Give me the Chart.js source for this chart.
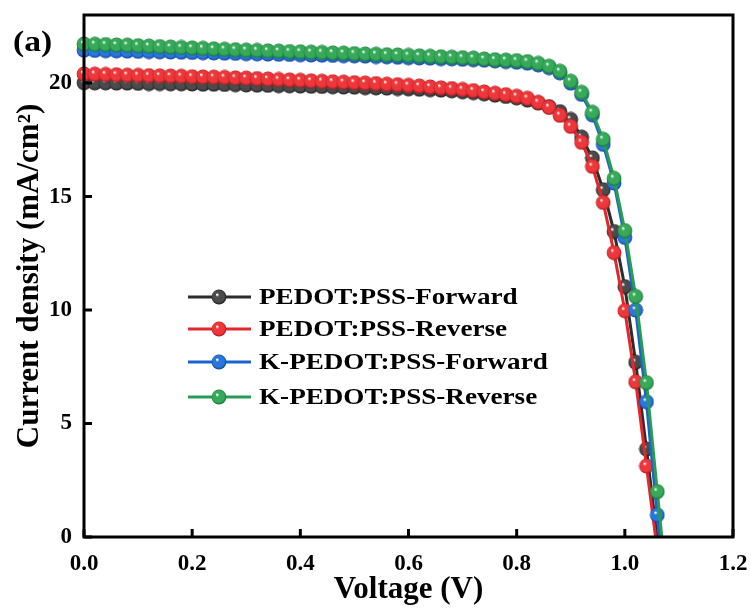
<!DOCTYPE html>
<html>
<head>
<meta charset="utf-8">
<script src="https://cdn.jsdelivr.net/npm/chart.js@4"></script>
<style>
  body { margin: 0; background: #fff; }
  #jv { display: block; }
</style>
</head>
<body>
<canvas id="jv" width="751" height="610"></canvas>
<script>
// voltage steps (V)
const voltage = [0.00, 0.02, 0.04, 0.06, 0.08, 0.10, 0.12, 0.14, 0.16, 0.18,
  0.20, 0.22, 0.24, 0.26, 0.28, 0.30, 0.32, 0.34, 0.36, 0.38,
  0.40, 0.42, 0.44, 0.46, 0.48, 0.50, 0.52, 0.54, 0.56, 0.58,
  0.60, 0.62, 0.64, 0.66, 0.68, 0.70, 0.72, 0.74, 0.76, 0.78,
  0.80, 0.82, 0.84, 0.86, 0.88, 0.90, 0.92, 0.94, 0.96, 0.98,
  1.00, 1.02, 1.04, 1.06, 1.08];

// current density (mA/cm2), one per voltage step
const pedotFwd = [20.02, 20.01, 20.01, 20.00, 20.00, 19.99, 19.98, 19.98, 19.97, 19.97,
  19.96, 19.95, 19.95, 19.94, 19.93, 19.92, 19.91, 19.90, 19.89, 19.88,
  19.87, 19.86, 19.85, 19.84, 19.83, 19.82, 19.80, 19.79, 19.78, 19.76,
  19.75, 19.73, 19.71, 19.69, 19.66, 19.62, 19.58, 19.53, 19.47, 19.41,
  19.35, 19.25, 19.12, 18.96, 18.74, 18.40, 17.62, 16.70, 15.30, 13.46,
  11.03, 7.70, 3.88, -0.10];
const pedotRev = [20.40, 20.39, 20.38, 20.37, 20.35, 20.34, 20.33, 20.32, 20.31, 20.30,
  20.28, 20.27, 20.26, 20.25, 20.23, 20.22, 20.20, 20.18, 20.16, 20.14,
  20.12, 20.10, 20.08, 20.06, 20.04, 20.02, 20.00, 19.98, 19.95, 19.93,
  19.90, 19.87, 19.83, 19.79, 19.76, 19.72, 19.67, 19.61, 19.55, 19.49,
  19.42, 19.33, 19.15, 18.93, 18.58, 18.09, 17.39, 16.33, 14.74, 12.53,
  9.97, 6.84, 3.13, -0.60];
const kpedotFwd = [21.45, 21.44, 21.43, 21.42, 21.41, 21.40, 21.39, 21.38, 21.37, 21.36,
  21.35, 21.34, 21.33, 21.32, 21.31, 21.30, 21.29, 21.28, 21.27, 21.26,
  21.25, 21.24, 21.23, 21.22, 21.21, 21.20, 21.19, 21.17, 21.16, 21.14,
  21.12, 21.11, 21.10, 21.08, 21.07, 21.05, 21.03, 21.01, 20.98, 20.95,
  20.92, 20.88, 20.80, 20.68, 20.45, 20.00, 19.50, 18.60, 17.30, 15.60,
  13.20, 10.00, 5.96, 0.97, -4.00];
const kpedotRev = [21.72, 21.71, 21.70, 21.68, 21.67, 21.65, 21.63, 21.61, 21.59, 21.57,
  21.55, 21.53, 21.51, 21.49, 21.47, 21.45, 21.44, 21.42, 21.41, 21.39,
  21.38, 21.36, 21.35, 21.33, 21.32, 21.30, 21.28, 21.27, 21.25, 21.24,
  21.22, 21.20, 21.18, 21.16, 21.14, 21.12, 21.10, 21.06, 21.03, 21.01,
  20.99, 20.95, 20.87, 20.74, 20.52, 20.08, 19.59, 18.71, 17.52, 15.80,
  13.50, 10.60, 6.80, 2.00, -2.80];

const seriesNames = ['PEDOT:PSS-Forward', 'PEDOT:PSS-Reverse', 'K-PEDOT:PSS-Forward', 'K-PEDOT:PSS-Reverse'];
const xTicks = [0, 0.2, 0.4, 0.6, 0.8, 1.0, 1.2];
const yTicks = [0, 5, 10, 15, 20];

const FONT = "'Liberation Serif', 'Times New Roman', serif";

// little shaded ball used as the marker
function ball(base, dark) {
  const c = document.createElement('canvas');
  c.width = 16; c.height = 16;
  const g = c.getContext('2d');
  const grad = g.createRadialGradient(6, 5.5, 0.4, 8, 8, 7.6);
  grad.addColorStop(0, '#ffffff');
  grad.addColorStop(0.22, base);
  grad.addColorStop(0.75, base);
  grad.addColorStop(1, dark);
  g.fillStyle = grad;
  g.beginPath();
  g.arc(8, 8, 7.4, 0, Math.PI * 2);
  g.fill();
  return c;
}

const lineColors = ['rgb(45,45,45)', 'rgb(225,40,45)', 'rgb(25,100,205)', 'rgb(40,155,85)'];
const balls = [
  ball('rgb(75,75,75)', 'rgb(25,25,25)'),
  ball('rgb(238,55,58)', 'rgb(170,20,25)'),
  ball('rgb(40,120,220)', 'rgb(15,60,150)'),
  ball('rgb(55,170,90)', 'rgb(20,110,50)')
];
const allCurves = [pedotFwd, pedotRev, kpedotFwd, kpedotRev];

function pts(arr) {
  return arr.map((v, i) => ({ x: voltage[i], y: v }));
}

const datasets = allCurves.map((arr, i) => ({
  label: seriesNames[i],
  data: pts(arr),
  borderColor: lineColors[i],
  borderWidth: 3,
  pointStyle: balls[i],
  pointRadius: ctx => (ctx.raw && ctx.raw.y < 0 ? 0 : 7),
  tension: 0,
  order: 4 - i,
  clip: { left: 10, top: 10, right: 10, bottom: 0 }
}));

function noPad(s) {
  s.paddingLeft = 0;
  s.paddingRight = 0;
  s.paddingTop = 0;
  s.paddingBottom = 0;
}

const decor = {
  id: 'decor',
  afterDraw(chart) {
    const { ctx, chartArea: a, scales } = chart;
    ctx.save();
    // frame
    ctx.strokeStyle = '#000';
    ctx.lineWidth = 3;
    ctx.strokeRect(a.left, a.top, a.right - a.left, a.bottom - a.top);
    // inward ticks
    ctx.beginPath();
    xTicks.forEach(v => {
      const px = scales.x.getPixelForValue(v);
      ctx.moveTo(px, a.bottom);
      ctx.lineTo(px, a.bottom - 8);
    });
    yTicks.forEach(v => {
      const py = scales.y.getPixelForValue(v);
      ctx.moveTo(a.left, py);
      ctx.lineTo(a.left + 8, py);
    });
    ctx.stroke();

    // panel label
    ctx.fillStyle = '#000';
    ctx.textBaseline = 'middle';
    ctx.textAlign = 'left';
    ctx.save();
    ctx.translate(13, 43);
    ctx.scale(1.12, 1);
    ctx.font = 'bold 30px ' + FONT;
    ctx.fillText('(a)', 0, 0);
    ctx.restore();

    // legend
    const rowY = [297, 329, 362, 397];
    ctx.font = 'bold 24px ' + FONT;
    seriesNames.forEach((name, i) => {
      const y = rowY[i];
      ctx.strokeStyle = lineColors[i];
      ctx.lineWidth = 3;
      ctx.beginPath();
      ctx.moveTo(188, y);
      ctx.lineTo(251, y);
      ctx.stroke();
      ctx.drawImage(balls[i], 219 - 8, y - 8);
      ctx.save();
      ctx.translate(259, y);
      ctx.scale(1.13, 1);
      ctx.fillStyle = '#000';
      ctx.fillText(name, 0, 1);
      ctx.restore();
    });
    ctx.restore();
  }
};

new Chart(document.getElementById('jv'), {
  type: 'line',
  data: { datasets: datasets },
  options: {
    responsive: false,
    animation: false,
    layout: { padding: { left: 0, top: 15, right: 18, bottom: 0 } },
    plugins: {
      legend: { display: false },
      tooltip: { enabled: false }
    },
    scales: {
      x: {
        type: 'linear',
        min: 0,
        max: 1.2,
        afterFit: s => { s.height = 73; noPad(s); },
        afterBuildTicks: s => { s.ticks = xTicks.map(v => ({ value: v })); },
        grid: { display: false, drawTicks: false },
        border: { display: false },
        ticks: {
          padding: 13,
          color: '#000',
          font: { family: FONT, size: 23, weight: 'bold' },
          maxRotation: 0,
          callback: v => v.toFixed(1)
        },
        title: {
          display: true,
          text: 'Voltage (V)',
          color: '#000',
          font: { family: FONT, size: 31, weight: 'bold' },
          padding: { top: 1, bottom: 1 }
        }
      },
      y: {
        type: 'linear',
        min: 0,
        max: 23,
        afterFit: s => { s.width = 84; noPad(s); },
        afterBuildTicks: s => { s.ticks = yTicks.map(v => ({ value: v })); },
        grid: { display: false, drawTicks: false },
        border: { display: false },
        ticks: {
          padding: 12,
          color: '#000',
          font: { family: FONT, size: 23, weight: 'bold' }
        },
        title: {
          display: true,
          text: 'Current density (mA/cm²)',
          color: '#000',
          font: { family: FONT, size: 31, weight: 'bold' },
          padding: { top: 11, bottom: 11 }
        }
      }
    }
  },
  plugins: [decor]
});
</script>
</body>
</html>
